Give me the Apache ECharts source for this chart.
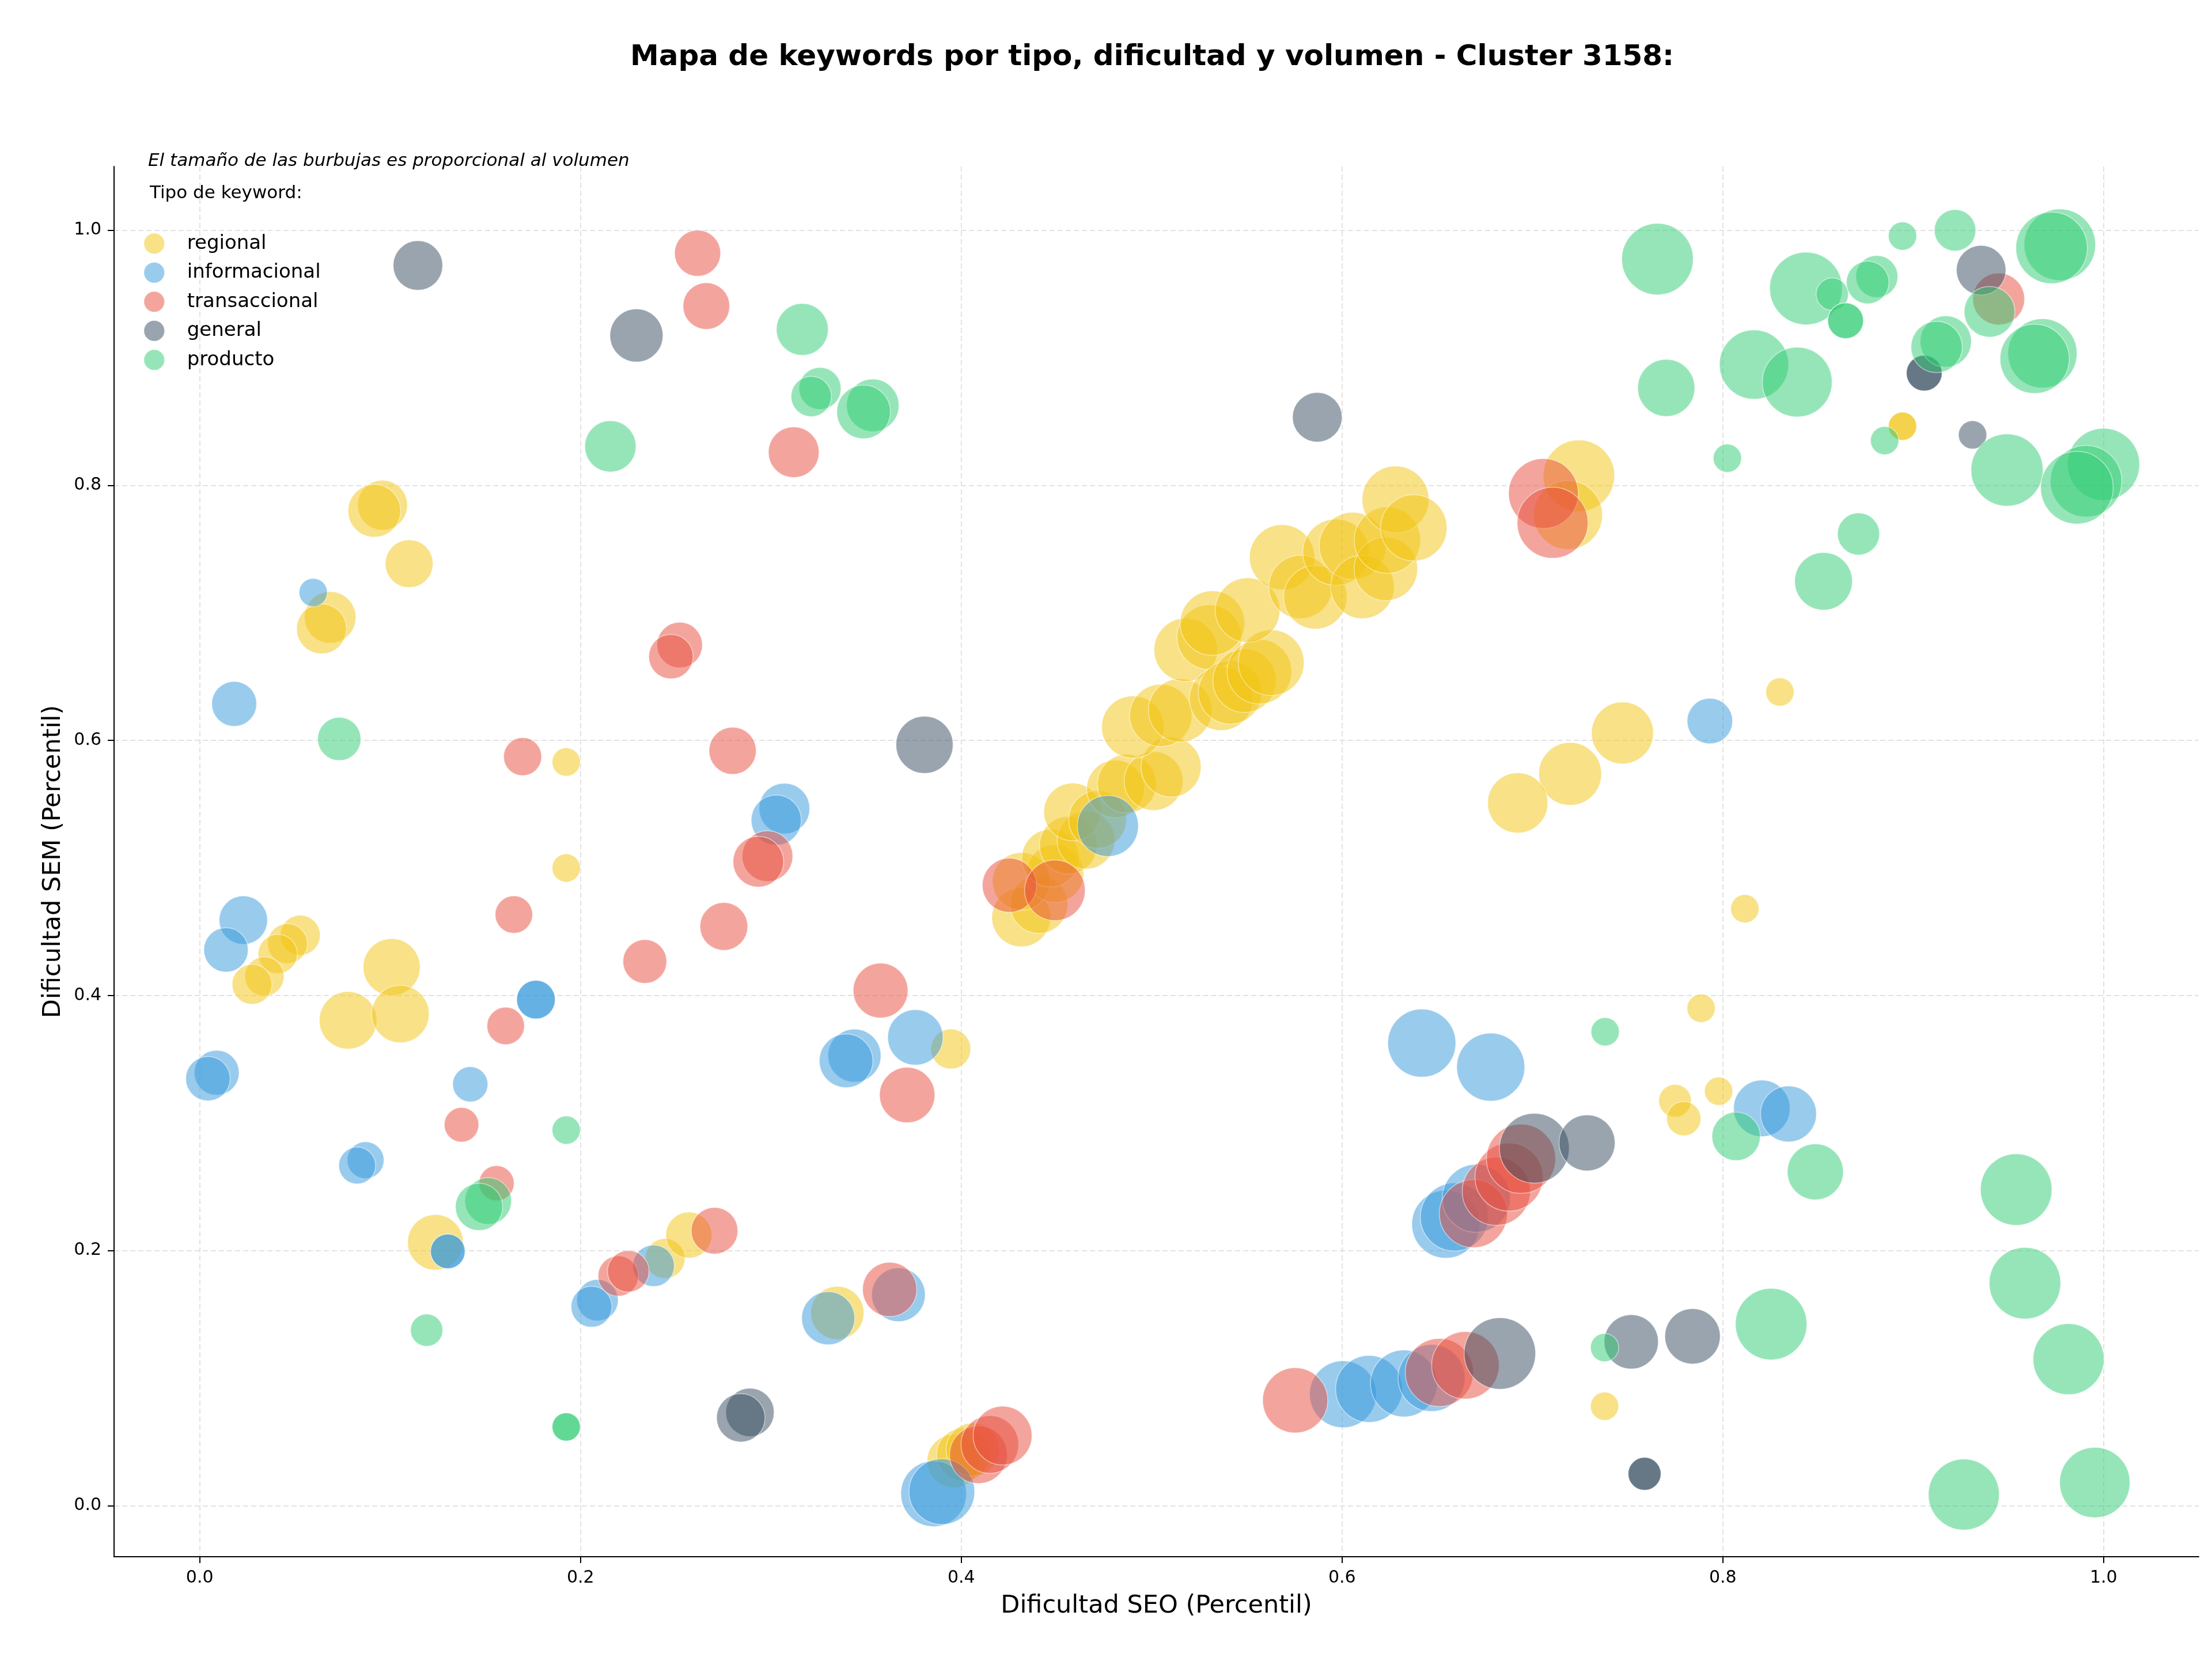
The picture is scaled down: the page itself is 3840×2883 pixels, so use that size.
<!DOCTYPE html>
<html>
<head>
<meta charset="utf-8">
<title>Mapa de keywords - Cluster 3158</title>
<script src="https://cdn.jsdelivr.net/npm/echarts@6/dist/echarts.min.js"></script>
<style>
  html, body { margin: 0; padding: 0; background: #fff; }
  #main { width: 3840px; height: 2883px; }
</style>
</head>
<body>
<div id="main"></div>
<script>
// tipos de keyword (orden de la leyenda)
const tipos = ['regional', 'informacional', 'transaccional', 'general', 'producto'];
const colores = ['#f1c40f', '#3498db', '#e74c3c', '#34495e', '#2ecc71'];

// ticks de los ejes
const ticksX = [0, 0.2, 0.4, 0.6, 0.8, 1.0];
const ticksY = [0, 0.2, 0.4, 0.6, 0.8, 1.0];

// [dificultad SEO, dificultad SEM, volumen]
const regional = [
  [0.0960, 0.7845, 470], [0.0917, 0.7800, 520], [0.1100, 0.7386, 430],
  [0.0685, 0.6965, 500], [0.0640, 0.6875, 470], [0.1925, 0.5831, 150],
  [0.1925, 0.5000, 150], [0.0528, 0.4473, 300], [0.0461, 0.4407, 300],
  [0.0410, 0.4326, 290], [0.0340, 0.4150, 290], [0.0275, 0.4088, 300],
  [0.1008, 0.4223, 610], [0.0779, 0.3806, 620], [0.1054, 0.3855, 620],
  [0.3945, 0.3581, 300], [0.1238, 0.2065, 580], [0.2444, 0.1938, 300],
  [0.2569, 0.2122, 400], [0.3349, 0.1512, 530], [0.3960, 0.0350, 530],
  [0.4010, 0.0400, 530], [0.4060, 0.0440, 530],
  [0.7244, 0.8075, 960], [0.7187, 0.7768, 890], [0.7473, 0.6059, 720],
  [0.7198, 0.5738, 740], [0.6923, 0.5510, 680], [0.8300, 0.6380, 150],
  [0.8116, 0.4681, 150], [0.7886, 0.3900, 150], [0.7749, 0.3175, 200],
  [0.7795, 0.3035, 220], [0.7978, 0.3250, 150], [0.7379, 0.0780, 150],
  [0.8944, 0.8464, 150], [0.8944, 0.8464, 150],
  // diagonal
  [0.4315, 0.4613, 650], [0.4408, 0.4714, 625], [0.4315, 0.4895, 625],
  [0.4492, 0.4956, 625], [0.4469, 0.5077, 625], [0.4562, 0.5178, 625],
  [0.4655, 0.5218, 625], [0.4585, 0.5440, 625], [0.4716, 0.5380, 625],
  [0.4810, 0.5620, 625], [0.4870, 0.5661, 650], [0.5010, 0.5682, 650],
  [0.5102, 0.5792, 676], [0.4901, 0.6105, 729], [0.5048, 0.6196, 729],
  [0.5150, 0.6236, 756], [0.5179, 0.6710, 756], [0.5303, 0.6810, 784],
  [0.5319, 0.6920, 784], [0.5365, 0.6327, 756], [0.5412, 0.6377, 756],
  [0.5488, 0.6468, 756], [0.5566, 0.6539, 784], [0.5628, 0.6610, 812],
  [0.5504, 0.7022, 784], [0.5685, 0.7436, 798], [0.5782, 0.7204, 756],
  [0.5860, 0.7123, 756], [0.5968, 0.7476, 827], [0.6056, 0.7526, 841],
  [0.6107, 0.7204, 756], [0.6230, 0.7345, 756], [0.6238, 0.7570, 827],
  [0.6281, 0.7889, 841], [0.6377, 0.7667, 827]
];

const informacional = [
  [0.0596, 0.7160, 150], [0.0181, 0.6287, 380], [0.3071, 0.5466, 484],
  [0.3028, 0.5375, 473], [0.0229, 0.4591, 441], [0.0138, 0.4358, 371],
  [0.1766, 0.3968, 280], [0.1766, 0.3968, 280], [0.0089, 0.3395, 380],
  [0.0043, 0.3348, 371], [0.1421, 0.3304, 233], [0.0871, 0.2709, 256],
  [0.0827, 0.2667, 256], [0.1303, 0.1994, 225], [0.1303, 0.1994, 225],
  [0.2089, 0.1611, 324], [0.2058, 0.1560, 315], [0.2384, 0.1881, 324],
  [0.3301, 0.1470, 529], [0.3670, 0.1654, 540], [0.3855, 0.0094, 812],
  [0.3898, 0.0110, 812], [0.3759, 0.3672, 576], [0.3439, 0.3529, 529],
  [0.3395, 0.3488, 540], [0.4770, 0.5329, 700], [0.6419, 0.3627, 870],
  [0.6781, 0.3439, 870], [0.7932, 0.6152, 390], [0.8205, 0.3115, 600],
  [0.8345, 0.3072, 588], [0.6005, 0.0874, 841], [0.6142, 0.0916, 841],
  [0.6325, 0.0959, 841], [0.6470, 0.1001, 841], [0.6545, 0.2207, 870],
  [0.6590, 0.2264, 870], [0.6705, 0.2410, 870]
];

const transaccional = [
  [0.2615, 0.9820, 400], [0.2661, 0.9406, 410], [0.3120, 0.8260, 484],
  [0.2521, 0.6748, 390], [0.2475, 0.6657, 371], [0.1696, 0.5873, 272],
  [0.2799, 0.5919, 420], [0.2982, 0.5093, 484], [0.2934, 0.5049, 484],
  [0.1650, 0.4635, 264], [0.2753, 0.4542, 430], [0.2338, 0.4267, 361],
  [0.1607, 0.3762, 264], [0.1375, 0.2987, 225], [0.1559, 0.2528, 233],
  [0.2198, 0.1801, 306], [0.2251, 0.1838, 324], [0.2704, 0.2156, 410],
  [0.3576, 0.4039, 564], [0.3716, 0.3220, 576], [0.3624, 0.1696, 552],
  [0.4253, 0.4865, 552], [0.4492, 0.4825, 689], [0.4090, 0.0400, 625],
  [0.4150, 0.0480, 625], [0.4217, 0.0550, 650], [0.5754, 0.0826, 798],
  [0.6511, 0.1044, 870], [0.6648, 0.1101, 856], [0.6690, 0.2290, 870],
  [0.6810, 0.2465, 870], [0.6877, 0.2576, 870], [0.6940, 0.2720, 900],
  [0.7058, 0.7937, 915], [0.7106, 0.7707, 946], [0.9449, 0.9461, 506]
];

const general = [
  [0.1146, 0.9724, 462], [0.2294, 0.9175, 529], [0.5870, 0.8534, 462],
  [0.3807, 0.5966, 613], [0.9357, 0.9687, 462], [0.9058, 0.8880, 240],
  [0.9058, 0.8880, 240], [0.9312, 0.8396, 150], [0.2890, 0.0732, 441],
  [0.2842, 0.0689, 441], [0.7010, 0.2803, 915], [0.7287, 0.2845, 588],
  [0.6829, 0.1194, 961], [0.7841, 0.1328, 576], [0.7519, 0.1285, 552],
  [0.7589, 0.0250, 203], [0.7589, 0.0250, 203]
];

const producto = [
  [0.3165, 0.9223, 506], [0.3258, 0.8760, 333], [0.3212, 0.8697, 306],
  [0.3535, 0.8627, 518], [0.3487, 0.8576, 540], [0.2157, 0.8306, 495],
  [0.0733, 0.6012, 352], [0.1925, 0.2945, 150], [0.1515, 0.2389, 410],
  [0.1467, 0.2343, 420], [0.1192, 0.1376, 196], [0.1925, 0.0618, 150],
  [0.1925, 0.0618, 150], [0.7382, 0.3716, 150], [0.7379, 0.1240, 150],
  [0.8070, 0.2896, 441], [0.8486, 0.2618, 588], [0.9541, 0.2479, 961],
  [0.9587, 0.1745, 961], [0.9816, 0.1149, 946], [0.8254, 0.1424, 961],
  [0.9266, 0.0088, 946], [0.9954, 0.0182, 930], [0.7657, 0.9774, 961],
  [0.8944, 0.9955, 150], [0.9220, 1.0000, 324], [0.9770, 0.9887, 961],
  [0.9727, 0.9862, 961], [0.9401, 0.9361, 484], [0.8437, 0.9544, 992],
  [0.8575, 0.9499, 196], [0.8809, 0.9637, 333], [0.8761, 0.9591, 342],
  [0.8645, 0.9291, 240], [0.8645, 0.9291, 240], [0.8164, 0.8947, 900],
  [0.8391, 0.8810, 915], [0.9171, 0.9128, 495], [0.9123, 0.9085, 495],
  [0.9679, 0.9035, 900], [0.9638, 0.8992, 900], [0.7703, 0.8764, 613],
  [0.8850, 0.8351, 150], [0.8024, 0.8213, 150], [0.9493, 0.8120, 977],
  [1.0000, 0.8165, 977], [0.9908, 0.8033, 961], [0.9860, 0.7982, 992],
  [0.8713, 0.7619, 333], [0.8529, 0.7248, 625]
];

const datosPorTipo = [regional, informacional, transaccional, general, producto];

const fuente = '"DejaVu Sans", sans-serif';

const myChart = echarts.init(document.getElementById('main'), null, { renderer: 'canvas' });

const option = {
  backgroundColor: '#ffffff',
  animation: false,
  graphic: [
    {
      type: 'text', x: 2000, y: 100,
      style: {
        text: 'Mapa de keywords por tipo, dificultad y volumen - Cluster 3158:',
        font: 'bold 50px ' + fuente, fill: '#000',
        align: 'center', verticalAlign: 'middle',
        textAlign: 'center', textVerticalAlign: 'middle'
      }
    },
    {
      type: 'text', x: 257, y: 280,
      style: {
        text: 'El tamaño de las burbujas es proporcional al volumen',
        font: 'italic 31px ' + fuente, fill: '#000',
        align: 'left', verticalAlign: 'middle',
        textAlign: 'left', textVerticalAlign: 'middle'
      }
    },
    {
      type: 'text', x: 260, y: 336,
      style: {
        text: 'Tipo de keyword:',
        font: '31px ' + fuente, fill: '#000',
        align: 'left', verticalAlign: 'middle',
        textAlign: 'left', textVerticalAlign: 'middle'
      }
    }
  ],
  legend: {
    data: tipos,
    orient: 'vertical',
    left: 244,
    top: 399,
    icon: 'circle',
    itemWidth: 36,
    itemHeight: 36,
    itemGap: 13,
    itemStyle: { opacity: 0.5, borderColor: '#fff', borderWidth: 1.5 },
    textStyle: {
      fontFamily: fuente, fontSize: 34, color: '#000',
      padding: [0, 0, 0, 34], lineHeight: 36
    },
    selectedMode: false
  },
  grid: {
    left: 198,
    right: 23,
    top: 289,
    bottom: 181,
    containLabel: false
  },
  xAxis: {
    type: 'value',
    min: -0.045,
    max: 1.05,
    name: 'Dificultad SEO (Percentil)',
    nameLocation: 'middle',
    nameGap: 64,
    nameTextStyle: { fontFamily: fuente, fontSize: 43, color: '#000' },
    axisLine: { show: true, onZero: false, lineStyle: { color: '#000', width: 2 } },
    axisTick: { show: true, customValues: ticksX, length: 11, lineStyle: { color: '#000', width: 2 } },
    axisLabel: {
      customValues: ticksX, margin: 22,
      fontFamily: fuente, fontSize: 30, color: '#000',
      formatter: v => v.toFixed(1)
    },
    splitLine: { show: true, lineStyle: { color: '#e2e2e2', width: 2, type: [9, 5] } }
  },
  yAxis: {
    type: 'value',
    min: -0.04,
    max: 1.05,
    name: 'Dificultad SEM (Percentil)',
    nameLocation: 'middle',
    nameGap: 84,
    nameTextStyle: { fontFamily: fuente, fontSize: 43, color: '#000' },
    axisLine: { show: true, onZero: false, lineStyle: { color: '#000', width: 2 } },
    axisTick: { show: true, customValues: ticksY, length: 11, lineStyle: { color: '#000', width: 2 } },
    axisLabel: {
      customValues: ticksY, margin: 22,
      fontFamily: fuente, fontSize: 30, color: '#000',
      formatter: v => v.toFixed(1)
    },
    splitLine: { show: true, lineStyle: { color: '#e2e2e2', width: 2, type: [9, 5] } }
  },
  series: tipos.map((tipo, i) => ({
    name: tipo,
    type: 'scatter',
    data: datosPorTipo[i],
    symbol: 'circle',
    // area proporcional al volumen
    symbolSize: val => 4 * Math.sqrt(val[2]),
    itemStyle: {
      color: colores[i],
      opacity: 0.5,
      borderColor: '#ffffff',
      borderWidth: 1.5
    },
    emphasis: { disabled: true },
    z: 2 + i
  }))
};

myChart.setOption(option);
</script>
</body>
</html>
